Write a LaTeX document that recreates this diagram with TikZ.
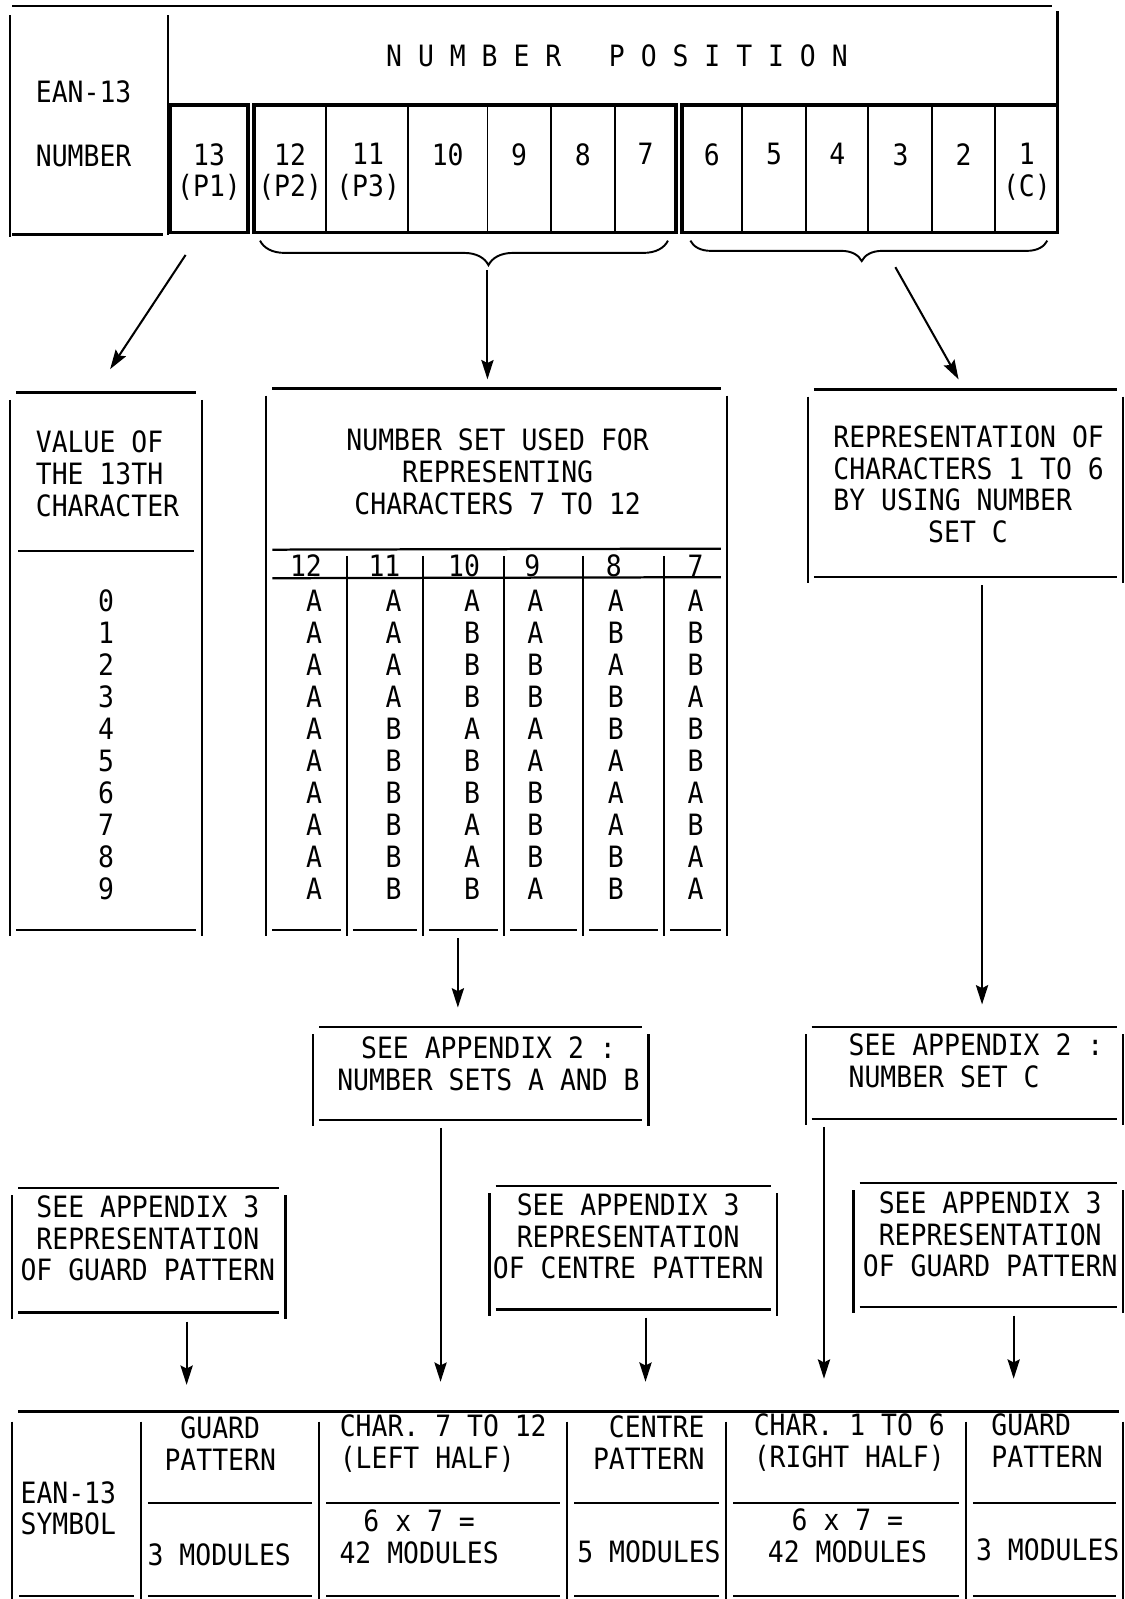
\documentclass[tikz,border=0pt]{standalone}
\usepackage{fontspec}
\newfontfamily\tfont[FakeStretch=0.9]{DejaVu Sans Mono}
\usetikzlibrary{arrows.meta,calc,decorations.pathreplacing}
\newcommand\mkbox[5]{\node[boxn,minimum width={#4-#2},minimum height={#5-#3}] (#1) at (#2,#3) {};}
\newcommand\frm[1]{%
  \draw[ln] ($(#1.north west)+(0,7)$) -- ($(#1.south west)+(0,6)$);
  \draw[ln] ($(#1.north east)+(0,7)$) -- ($(#1.south east)+(0,6)$);
  \draw[ln] ($(#1.north west)+(6,0)$) -- ($(#1.north east)+(-6,0)$);
  \draw[ln] ($(#1.south west)+(6,0)$) -- ($(#1.south east)+(-6,0)$);}
\begin{document}
\begin{tikzpicture}[x=1pt,y=-1pt,
  boxn/.style={inner sep=0pt,outer sep=0pt,anchor=north west,draw=none},
  ln/.style={line width=2.2pt},
  thk/.style={line width=3.8pt},
  thn/.style={line width=1.8pt},
  txt/.style={font=\tfont\fontsize{28.8}{31}\selectfont,inner sep=0pt,align=center,anchor=north},
  txtL/.style={font=\tfont\fontsize{28.8}{31.33}\selectfont,inner sep=0pt,align=center,anchor=north},
  arr/.style={line width=2pt,-{Stealth[length=19pt,width=12pt,inset=3pt]}},
  brc/.style={line width=1.9pt,decorate}]
\useasboundingbox (0,0) rectangle (1103,1568);

% ---------- top header ----------
\mkbox{hdr}{10}{6}{165}{230}
\mkbox{np}{165}{6}{1037}{103}
\draw[ln] ($(hdr.north west)+(2,0)$) -- ($(np.north east)+(-5,0)$);
\draw[ln] ($(hdr.north west)+(0,9)$) -- ($(hdr.south west)+(0,2)$);
\draw[ln] ($(hdr.north east)+(0,9)$) -- (hdr.south east);
\draw[ln] ($(hdr.south west)+(2,0)$) -- ($(hdr.south east)+(-5,0)$);
\draw[ln] ($(np.north east)+(0,5)$) -- (np.south east);
\node[txt,anchor=center] (title) at (605,55) {N U M B E R~~~P O S I T I O N};
\node[txt,anchor=west] (ean1) at (35,90) {EAN-13};
\node[txt,anchor=west] (num1) at (35,153) {NUMBER};

\foreach \n/\a/\b in {13/167/243,12/249/320,11/320/400,10/400/478,9/478/540,8/540/603,7/603/663,
                      6/669/728,5/728/790,4/790/851,3/851/914,2/914/976,1/976/1037}
  {\mkbox{c\n}{\a}{103}{\b}{228}}
\draw[thk] (c13.north west) rectangle (c13.south east);
\draw[thk] (c12.north west) rectangle (c7.south east);
\draw[thk] (c6.north west) rectangle (c1.south east);
\foreach \n in {12,11,10,9,8,6,5,4,3,2} \draw[thn] (c\n.north east) -- (c\n.south east);
\node[txt] (t13) at (205,140.5) {13\\(P1)};
\node[txt] (t12) at (284.5,140.5) {12\\(P2)};
\node[txt] (t11) at (361,140.5) {11\\(P3)};
\node[txt] (t10) at (439,140.5) {10};
\node[txt] (t9) at (509,140.5) {9};
\node[txt] (t8) at (571.5,140.5) {8};
\node[txt] (t7) at (633,140.5) {7};
\node[txt] (t6) at (698,140.5) {6};
\node[txt] (t5) at (759,140.5) {5};
\node[txt] (t4) at (821,140.5) {4};
\node[txt] (t3) at (883,140.5) {3};
\node[txt] (t2) at (945,140.5) {2};
\node[txt] (t1) at (1007,140.5) {1\\(C)};

% braces
\coordinate (bL1) at (255,236);
\coordinate (bL2) at (655,236);
\coordinate (bR1) at (677,236);
\coordinate (bR2) at (1027,236);
\coordinate (tipL) at (478,262);
\coordinate (tipR) at (845,256);
\draw[brc,decoration={brace,mirror,amplitude=24pt,aspect=0.56}] (bL1) -- (bL2);
\draw[brc,decoration={brace,mirror,amplitude=20pt,aspect=0.48}] (bR1) -- (bR2);

% ---------- value box ----------
\mkbox{V}{10}{385}{198}{912}
\frm{V}
\draw[ln] ($(V.north west)+(8,155)$) -- ($(V.north east)+(-8,155)$);
\node[txt,anchor=north west,align=left] (vtxt) at (35,422.5) {VALUE OF\\THE 13TH\\CHARACTER};
\node[txtL] (digits) at (104,578.5) {0\\1\\2\\3\\4\\5\\6\\7\\8\\9};

% ---------- number set table ----------
\mkbox{M}{261}{381}{713}{912}
\draw[ln] ($(M.north west)+(0,7)$) -- ($(M.south west)+(0,6)$);
\draw[ln] ($(M.north east)+(0,7)$) -- ($(M.south east)+(0,6)$);
\draw[ln] ($(M.north west)+(6,0)$) -- ($(M.north east)+(-6,0)$);
\draw[ln] ($(M.north west)+(6,158)$) -- ($(M.north east)+(-6,157)$);
\draw[ln] ($(M.north west)+(6,186)$) -- ($(M.north east)+(-6,185)$);
\node[txt] (mtxt) at (488,420.5) {NUMBER SET USED FOR\\REPRESENTING\\CHARACTERS 7 TO 12};
\foreach \n/\a/\b in {1/261/340,2/340/415,3/415/494,4/494/572,5/572/651,6/651/713}
  {\mkbox{mc\n}{\a}{545}{\b}{912}}
\foreach \n in {1,...,5} \draw[ln] (mc\n.north east) -- ($(mc\n.south east)+(0,6)$);
\foreach \n in {1,...,6} \draw[ln] ($(mc\n.south west)+(6,0)$) -- ($(mc\n.south east)+(-6,0)$);
\node[txt,anchor=center] (h12) at (300,555) {12};
\node[txt,anchor=center] (h11) at (377,555) {11};
\node[txt,anchor=center] (h10) at (455,555) {10};
\node[txt,anchor=center] (h9) at (522,555) {9};
\node[txt,anchor=center] (h8) at (602,555) {8};
\node[txt,anchor=center] (h7) at (682,555) {7};
\node[txtL] (k12) at (308,578.5) {A\\A\\A\\A\\A\\A\\A\\A\\A\\A};
\node[txtL] (k11) at (386,578.5) {A\\A\\A\\A\\B\\B\\B\\B\\B\\B};
\node[txtL] (k10) at (463,578.5) {A\\B\\B\\B\\A\\B\\B\\A\\A\\B};
\node[txtL] (k9) at (525,578.5) {A\\A\\B\\B\\A\\A\\B\\B\\B\\A};
\node[txtL] (k8) at (604,578.5) {A\\B\\A\\B\\B\\A\\A\\A\\B\\B};
\node[txtL] (k7) at (682,578.5) {A\\B\\B\\A\\B\\B\\A\\B\\A\\A};

% ---------- representation box ----------
\mkbox{R}{792}{382}{1101}{566}
\frm{R}
\node[txt,anchor=north west,align=left] (rtxt) at (817,417.5)
  {REPRESENTATION OF\\CHARACTERS 1 TO 6\\BY USING NUMBER\\\hspace*{93pt}SET C};

% ---------- appendix 2 boxes ----------
\mkbox{SAB}{307}{1007}{636}{1098}
\frm{SAB}
\node[txt] (sabtxt) at (479,1016.5) {SEE APPENDIX 2 :\\NUMBER SETS A AND B};
\mkbox{SC}{790}{1007}{1101}{1097}
\frm{SC}
\node[txt,anchor=north west,align=left] (sctxt) at (832,1013.5) {SEE APPENDIX 2 :\\NUMBER SET C};

% ---------- appendix 3 boxes ----------
\mkbox{SG1}{12}{1165}{280}{1287}
\frm{SG1}
\node[txt] (sg1txt) at (145,1172.5) {SEE APPENDIX 3\\REPRESENTATION\\OF GUARD PATTERN};
\mkbox{SCP}{480}{1163}{762}{1284}
\frm{SCP}
\node[txt] (scptxt) at (616,1170.5) {SEE APPENDIX 3\\REPRESENTATION\\OF CENTRE PATTERN};
\mkbox{SG2}{837}{1160}{1101}{1282}
\frm{SG2}
\node[txt] (sg2txt) at (971,1168.5) {SEE APPENDIX 3\\REPRESENTATION\\OF GUARD PATTERN};

% ---------- bottom table ----------
\foreach \n/\a/\b in {0/12/138,1/138/313,2/313/556,3/556/712,4/712/947,5/947/1101}
  {\mkbox{bt\n}{\a}{1384}{\b}{1565}}
\draw[ln] ($(bt0.north west)+(6,0)$) -- ($(bt5.north east)+(-4,0)$);
\draw[ln] ($(bt0.north west)+(0,10)$) -- ($(bt0.south west)+(0,3)$);
\foreach \n in {0,...,5} \draw[ln] ($(bt\n.north east)+(0,10)$) -- ($(bt\n.south east)+(0,3)$);
\foreach \n in {1,...,5} \draw[ln] ($(bt\n.north west)+(7,90)$) -- ($(bt\n.north east)+(-7,90)$);
\foreach \n in {0,...,5} \draw[ln] ($(bt\n.south west)+(7,0)$) -- ($(bt\n.south east)+(-7,0)$);
\node[txt,anchor=north west,align=left] (ean2) at (20,1452.5) {EAN-13\\SYMBOL};
\node[txt] (g1) at (216,1389.5) {GUARD\\PATTERN};
\node[txt,anchor=center] (m1) at (215,1525) {3 MODULES};
\node[txt,anchor=north west,align=left] (ch1) at (333,1387.5) {CHAR. 7 TO 12\\(LEFT HALF)};
\node[txt] (mm1) at (411,1480.5) {6 x 7 =\\42 MODULES};
\node[txt,anchor=north east,align=right] (cp) at (691,1388.5) {CENTRE\\PATTERN};
\node[txt,anchor=west] (m5) at (566,1522) {5 MODULES};
\node[txt,anchor=north west,align=left] (ch2) at (739,1386.5) {CHAR. 1 TO 6\\(RIGHT HALF)};
\node[txt] (mm2) at (831,1479.5) {6 x 7 =\\42 MODULES};
\node[txt,anchor=north west,align=left] (g2) at (972,1386.5) {GUARD\\PATTERN};
\node[txt,anchor=west] (m3) at (957,1520) {3 MODULES};

% ---------- arrows ----------
\draw[arr] ($(c13.south west)+(15,22)$) -- ($(V.north west)+(98,-23)$);
\draw[arr] ($(tipL)+(0,3)$) -- ($(M.north west)+(217,-9)$);
\draw[arr] ($(tipR)+(33,6)$) -- ($(R.north west)+(148,-10)$);
\draw[arr] ($(mc3.south west)+(34,8)$) -- ($(SAB.north west)+(142,-19)$);
\draw[arr] ($(R.south west)+(171,8)$) -- ($(SC.north west)+(173,-22)$);
\draw[arr] ($(SAB.south west)+(125,8)$) -- ($(bt2.north west)+(119,-29)$);
\draw[arr] ($(SC.south west)+(18,8)$) -- ($(bt4.north west)+(96,-32)$);
\draw[arr] ($(SG1.south west)+(171,9)$) -- ($(bt1.north west)+(45,-26)$);
\draw[arr] ($(SCP.south west)+(153,8)$) -- ($(bt3.north west)+(77,-29)$);
\draw[arr] ($(SG2.south west)+(157,8)$) -- ($(bt5.north west)+(47,-32)$);
\end{tikzpicture}
\end{document}
